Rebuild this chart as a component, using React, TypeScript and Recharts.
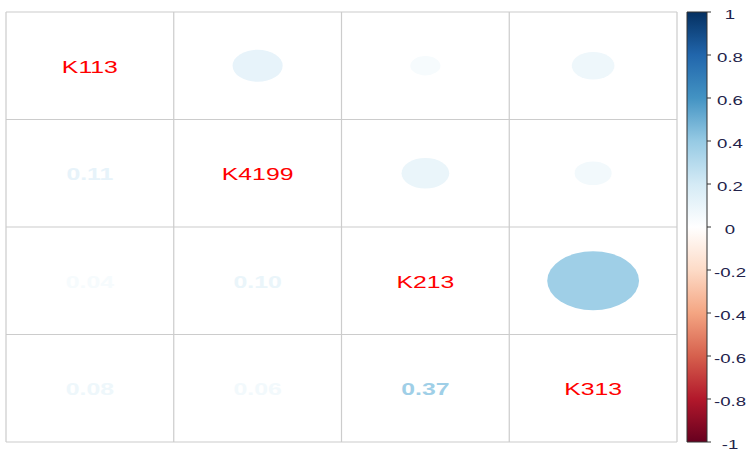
import React from 'react';
import {
  Bar,
  BarChart,
  CartesianGrid,
  Scatter,
  ScatterChart,
  XAxis,
  YAxis,
} from 'recharts';

// variable names, in plot order (top to bottom / left to right)
const variables = ['K113', 'K4199', 'K213', 'K313'];

// correlation matrix rows
const rowK113 = [1, 0.11, 0.04, 0.08];
const rowK4199 = [0.11, 1, 0.1, 0.06];
const rowK213 = [0.04, 0.1, 1, 0.37];
const rowK313 = [0.08, 0.06, 0.37, 1];
const corrRows = [rowK113, rowK4199, rowK213, rowK313];

// colour legend range and ticks
const legendRange = [-1, 1];
const legendTicks = [-1, -0.8, -0.6, -0.4, -0.2, 0, 0.2, 0.4, 0.6, 0.8, 1];

// RdBu palette, -1 -> 1
const palette = [
  '#67001F', '#B2182B', '#D6604D', '#F4A582', '#FDDBC7', '#FFFFFF',
  '#D4EAF5', '#96CAE4', '#4393C3', '#2166AC', '#053061',
];

const FONT = '"Liberation Sans", Arial, sans-serif';
const STRETCH = 1.55;

const MAIN_W = 690;
const MAIN_H = 451;
const margin = { top: 12, right: 13, bottom: 9, left: 6 };
const cellW = (MAIN_W - margin.left - margin.right) / variables.length;
const cellH = (MAIN_H - margin.top - margin.bottom) / variables.length;

const hexToRgb = (h: string) => [1, 3, 5].map((i) => parseInt(h.slice(i, i + 2), 16));

const colorFor = (v: number) => {
  const t = ((v + 1) / 2) * (palette.length - 1);
  const i = Math.min(Math.floor(t), palette.length - 2);
  const f = t - i;
  const a = hexToRgb(palette[i]);
  const b = hexToRgb(palette[i + 1]);
  const c = a.map((x, k) => Math.round(x + (b[k] - x) * f));
  return `rgb(${c[0]},${c[1]},${c[2]})`;
};

const cells = corrRows.flatMap((row, r) =>
  row.map((value, c) => ({
    x: c + 0.5,
    y: r + 0.5,
    value,
    kind: r === c ? 'label' : c > r ? 'circle' : 'number',
    name: variables[r],
  }))
);

const legendData = [{ name: 'corr', range: legendRange }];

const CellShape = (props: any) => {
  const { cx, cy, payload } = props;
  if (cx == null || cy == null) return null;
  if (payload.kind === 'circle') {
    const s = Math.sqrt(Math.abs(payload.value)) * 0.45;
    return (
      <ellipse cx={cx} cy={cy} rx={s * cellW} ry={s * cellH} fill={colorFor(payload.value)} />
    );
  }
  const isLabel = payload.kind === 'label';
  return (
    <g transform={`translate(${cx},${cy}) scale(${STRETCH},1)`}>
      <text
        x={0}
        y={1}
        textAnchor="middle"
        dominantBaseline="central"
        fontFamily={FONT}
        fontSize={16}
        fontWeight={isLabel ? 'normal' : 'bold'}
        fill={isLabel ? '#FF0000' : colorFor(payload.value)}
      >
        {isLabel ? payload.name : payload.value.toFixed(2)}
      </text>
    </g>
  );
};

const LegendTick = (props: any) => {
  const { x, y, payload } = props;
  return (
    <g transform={`translate(${x + 17},${y + 3}) scale(${STRETCH},1)`}>
      <text
        x={0}
        y={0}
        textAnchor="middle"
        dominantBaseline="central"
        fontFamily={FONT}
        fontSize={12}
        fill="#22224a"
      >
        {String(payload.value)}
      </text>
    </g>
  );
};

export default function App() {
  return (
    <div style={{ position: 'absolute', left: 0, top: 0, width: 753, height: 451, background: '#fff' }}>
      <div style={{ position: 'absolute', left: 0, top: 0 }}>
        <ScatterChart width={MAIN_W} height={MAIN_H} margin={margin}>
          <CartesianGrid stroke="#CCCCCC" strokeWidth={1.2} />
          <XAxis type="number" dataKey="x" domain={[0, 4]} ticks={[0, 1, 2, 3, 4]} hide />
          <YAxis type="number" dataKey="y" domain={[0, 4]} ticks={[0, 1, 2, 3, 4]} reversed hide />
          <Scatter data={cells} shape={<CellShape />} isAnimationActive={false} />
        </ScatterChart>
      </div>
      <div style={{ position: 'absolute', left: 680, top: 0 }}>
        <BarChart
          width={73}
          height={451}
          data={legendData}
          margin={{ top: 12, right: 0, bottom: 9, left: 7 }}
          barCategoryGap={0}
        >
          <defs>
            <linearGradient id="corrGrad" x1="0" y1="1" x2="0" y2="0">
              {palette.map((c, i) => (
                <stop key={i} offset={`${(i / (palette.length - 1)) * 100}%`} stopColor={c} />
              ))}
            </linearGradient>
          </defs>
          <XAxis dataKey="name" hide />
          <YAxis
            orientation="right"
            type="number"
            domain={[-1, 1]}
            ticks={legendTicks}
            width={46}
            axisLine={false}
            tickLine={{ stroke: '#333' }}
            tickSize={4}
            tickMargin={2}
            tick={<LegendTick />}
            interval={0}
          />
          <Bar
            dataKey="range"
            fill="url(#corrGrad)"
            stroke="#333"
            strokeWidth={1}
            isAnimationActive={false}
          />
        </BarChart>
      </div>
    </div>
  );
}
